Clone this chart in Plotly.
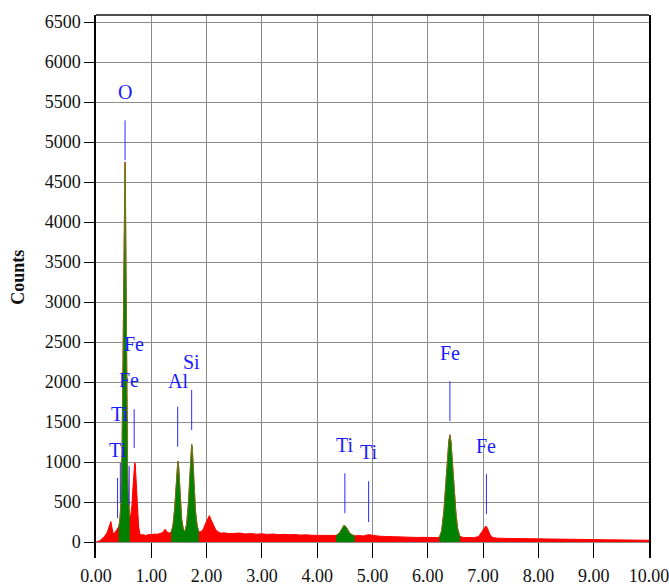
import plotly.graph_objects as go

# ---- spectrum data (energy keV, counts) ----
energy = [0.00, 0.04, 0.08, 0.12, 0.16, 0.20, 0.23, 0.25, 0.27, 0.29, 0.31, 0.34, 0.37, 0.39,
          0.41, 0.43, 0.45, 0.47, 0.49, 0.50, 0.51, 0.52, 0.525, 0.53, 0.54, 0.55, 0.56, 0.57,
          0.58, 0.59, 0.60, 0.61, 0.63, 0.65, 0.67, 0.69, 0.70, 0.71, 0.72, 0.73, 0.75, 0.77,
          0.79, 0.82, 0.86, 0.90, 0.95, 1.00, 1.05, 1.10, 1.15, 1.20, 1.25, 1.28, 1.32, 1.36,
          1.39, 1.42, 1.45, 1.47, 1.48, 1.49, 1.51, 1.53, 1.55, 1.58, 1.61, 1.64, 1.67, 1.70,
          1.72, 1.73, 1.74, 1.76, 1.78, 1.80, 1.83, 1.86, 1.90, 1.94, 1.98, 2.02, 2.05, 2.08,
          2.12, 2.16, 2.21, 2.26, 2.32, 2.40, 2.50, 2.60, 2.70, 2.80, 2.90, 3.00, 3.10, 3.20,
          3.30, 3.40, 3.50, 3.60, 3.70, 3.80, 3.90, 4.00, 4.10, 4.20, 4.28, 4.34, 4.40, 4.45,
          4.49, 4.53, 4.58, 4.63, 4.68, 4.75, 4.83, 4.93, 5.00, 5.10, 5.20, 5.30, 5.40, 5.50,
          5.60, 5.70, 5.80, 5.90, 6.00, 6.10, 6.16, 6.21, 6.25, 6.29, 6.32, 6.35, 6.38, 6.40,
          6.42, 6.45, 6.48, 6.51, 6.54, 6.58, 6.65, 6.75, 6.85, 6.92, 6.97, 7.01, 7.05, 7.08,
          7.12, 7.16, 7.25, 7.40, 7.60, 7.80, 8.00, 8.20, 8.40, 8.60, 8.80, 9.00, 9.20, 9.40,
          9.60, 9.80, 10.00]
counts = [0, 6, 22, 45, 75, 115, 175, 235, 255, 175, 105, 115, 150, 165,
          190, 260, 480, 1100, 2300, 3100, 3900, 4550, 4750, 4600, 3600, 2400, 1600, 1000,
          650, 450, 360, 320, 340, 460, 700, 930, 990, 975, 860, 680, 400, 200,
          110, 88, 92, 80, 95, 90, 100, 95, 105, 115, 160, 130, 110, 125,
          200, 400, 700, 950, 1010, 990, 800, 520, 280, 160, 130, 230, 480, 880,
          1150, 1220, 1190, 950, 640, 380, 200, 125, 130, 160, 230, 300, 330, 280,
          210, 160, 125, 110, 115, 105, 108, 112, 100, 106, 98, 102, 95, 100,
          92, 96, 90, 93, 86, 90, 84, 82, 86, 78, 80, 82, 110, 170,
          212, 180, 120, 90, 78, 80, 76, 92, 82, 74, 70, 72, 66, 64,
          60, 62, 57, 58, 54, 56, 55, 60, 140, 380, 700, 1000, 1260, 1340,
          1250, 950, 620, 350, 170, 70, 55, 52, 55, 70, 120, 170, 200, 170,
          100, 60, 48, 45, 42, 40, 38, 36, 34, 32, 31, 30, 28, 27,
          25, 24, 22]

# identified peak windows (keV) shown in green
peak_windows = [(0.41, 0.61), (1.36, 1.61), (1.61, 1.86), (4.34, 4.68), (6.21, 6.58)]

# element line markers
marker_elem = ["O", "Ti", "Ti", "Fe", "Fe", "Al", "Si", "Ti", "Ti", "Fe", "Fe"]
marker_kev = [0.525, 0.39, 0.44, 0.60, 0.69, 1.477, 1.73, 4.50, 4.93, 6.40, 7.06]
marker_low = [4770, 300, 490, 460, 1175, 1190, 1400, 360, 250, 1510, 350]
marker_high = [5270, 800, 990, 950, 1660, 1690, 1900, 860, 760, 2010, 850]
label_y = [5625, 1150, 1600, 2025, 2475, 2010, 2250, 1210, 1120, 2360, 1200]

yticks = list(range(0, 6501, 500))
xticks = list(range(0, 11))
xticktext = ["%.2f" % v for v in xticks]

SERIF = "Liberation Serif, Times New Roman, serif"

fig = go.Figure()
fig.add_trace(go.Scatter(x=energy, y=counts, mode="lines", fill="tozeroy",
                         line=dict(color="#ff0000", width=1), fillcolor="#ff0000",
                         hoverinfo="skip", showlegend=False))
for lo, hi in peak_windows:
    xs = [e for e in energy if lo <= e <= hi]
    ys = [c for e, c in zip(energy, counts) if lo <= e <= hi]
    fig.add_trace(go.Scatter(x=xs, y=ys, mode="lines", fill="tozeroy",
                             line=dict(color="#5f8a1a", width=0.8), fillcolor="#008000",
                             hoverinfo="skip", showlegend=False))

for el, k, lo, hi, ly in zip(marker_elem, marker_kev, marker_low, marker_high, label_y):
    fig.add_shape(type="line", x0=k, x1=k, y0=lo, y1=hi, xref="x", yref="y",
                  line=dict(color="#2a2aff", width=1))
    fig.add_annotation(x=k, y=ly, text=el, showarrow=False, xanchor="center", yanchor="middle",
                       font=dict(family=SERIF, size=20, color="#1a1aff"))

# top border
fig.add_shape(type="line", xref="paper", yref="paper", x0=0, x1=1, y0=1, y1=1,
              line=dict(color="#111111", width=1.5))

fig.add_annotation(text="Counts", xref="paper", yref="paper", x=0, y=0.516, xshift=-78,
                   textangle=-90, showarrow=False, xanchor="center", yanchor="middle",
                   font=dict(family=SERIF, size=18, color="#111111", weight="bold"))

fig.update_layout(
    width=669, height=588,
    margin=dict(l=96, r=20, t=15, b=30),
    paper_bgcolor="white", plot_bgcolor="white",
    showlegend=False,
)
fig.update_xaxes(range=[0, 10], tickvals=xticks, ticktext=xticktext,
                 ticks="inside", ticklen=15, tickcolor="#000000", tickwidth=1,
                 showline=False, zeroline=False, automargin=False,
                 showgrid=True, gridcolor="#8c8c8c", gridwidth=1,
                 ticklabelstandoff=5, ticklabeloverflow="allow",
                 tickfont=dict(family=SERIF, size=18, color="#111111"))
fig.update_yaxes(range=[-200, 6587.5], tickvals=yticks,
                 ticks="outside", ticklen=10, tickcolor="#000000", tickwidth=1,
                 showline=True, linecolor="#000000", linewidth=1.5, mirror=True,
                 zeroline=False, showgrid=True, gridcolor="#8c8c8c", gridwidth=1,
                 automargin=False,
                 tickfont=dict(family=SERIF, size=18, color="#111111"))

fig.write_html("out.html")
